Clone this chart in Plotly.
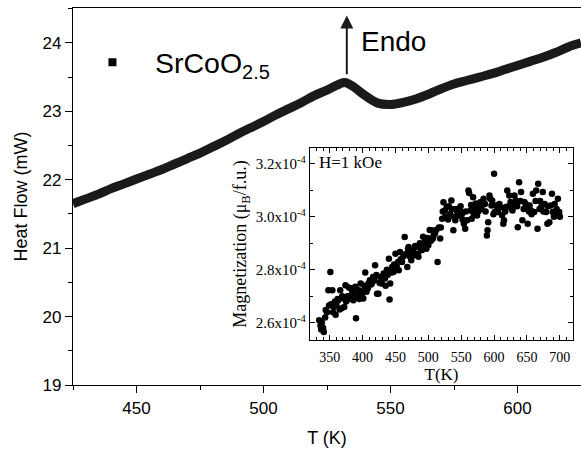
import plotly.graph_objects as go

# ---- main DSC curve ----
dsc_T = [425, 430, 435, 440, 445, 450, 455, 460, 465, 470, 475, 480, 485, 490, 495,
         500, 505, 510, 515, 520, 525, 530, 532, 535, 540, 545, 550, 555, 560, 565,
         570, 575, 580, 585, 590, 595, 600, 605, 610, 615, 620, 625]
dsc_HF = [21.65, 21.72, 21.79, 21.87, 21.94, 22.01, 22.08, 22.15, 22.23, 22.31, 22.39,
          22.48, 22.57, 22.67, 22.76, 22.85, 22.95, 23.04, 23.13, 23.23, 23.31, 23.40,
          23.42, 23.37, 23.23, 23.12, 23.10, 23.13, 23.18, 23.25, 23.33, 23.40, 23.45,
          23.50, 23.55, 23.61, 23.67, 23.73, 23.79, 23.86, 23.94, 24.00]

# ---- inset magnetization data (units of 1e-4 muB/f.u.) ----
mag_T = [334, 336, 337, 338, 340, 341, 343, 344, 346, 348, 349, 351, 352, 354, 355, 356,
         358, 359, 360, 362, 363, 365, 366, 368, 369, 371, 372, 374, 375, 377, 379, 380,
         381, 383, 384, 386, 388, 389, 390, 392, 394, 395, 397, 398, 399, 401, 403, 404,
         406, 408, 409, 411, 413, 414, 416, 418, 419, 421, 422, 424, 426, 427, 429, 431,
         432, 434, 435, 437, 438, 440, 441, 442, 444, 445, 447, 448, 450, 451, 452, 454,
         455, 457, 458, 460, 462, 464, 466, 468, 469, 470, 472, 474, 475, 477, 479, 480,
         482, 484, 485, 487, 488, 490, 492, 493, 495, 496, 497, 499, 500, 502, 504, 505,
         507, 508, 510, 512, 514, 516, 518, 519, 521, 522, 523, 525, 526, 528, 530, 531,
         533, 535, 536, 538, 539, 541, 542, 543, 545, 546, 548, 549, 551, 552, 554, 556,
         557, 559, 561, 562, 564, 565, 566, 568, 569, 571, 572, 574, 576, 578, 579, 581,
         583, 584, 586, 587, 589, 590, 591, 593, 594, 596, 597, 599, 600, 601, 603, 605,
         606, 608, 610, 612, 614, 615, 617, 618, 620, 622, 623, 625, 627, 628, 630, 631,
         633, 635, 636, 638, 640, 641, 643, 645, 646, 648, 650, 651, 653, 654, 656, 657,
         659, 661, 663, 664, 666, 667, 669, 670, 672, 674, 675, 677, 679, 681, 682, 684,
         686, 688, 689, 691, 692, 694, 695, 697, 699, 700]
mag_M = [2.61, 2.59, 2.575, 2.60, 2.58, 2.565, 2.62, 2.648, 2.64, 2.723, 2.665, 2.792,
         2.67, 2.723, 2.64, 2.66, 2.68, 2.63, 2.67, 2.69, 2.685, 2.65, 2.723, 2.655, 2.70,
         2.692, 2.66, 2.742, 2.68, 2.70, 2.733, 2.69, 2.70, 2.73, 2.72, 2.685, 2.71, 2.736,
         2.617, 2.70, 2.723, 2.69, 2.748, 2.72, 2.704, 2.692, 2.74, 2.79, 2.717, 2.73,
         2.748, 2.761, 2.745, 2.748, 2.773, 2.76, 2.817, 2.78, 2.71, 2.71, 2.75, 2.773,
         2.748, 2.77, 2.786, 2.767, 2.74, 2.80, 2.78, 2.842, 2.688, 2.748, 2.79, 2.811,
         2.792, 2.82, 2.861, 2.80, 2.811, 2.83, 2.798, 2.867, 2.84, 2.830, 2.85, 2.924,
         2.86, 2.811, 2.880, 2.886, 2.85, 2.836, 2.87, 2.874, 2.855, 2.89, 2.887, 2.86,
         2.849, 2.900, 2.88, 2.874, 2.925, 2.90, 2.905, 2.89, 2.880, 2.92, 2.893, 2.95,
         2.91, 2.949, 2.918, 2.93, 2.937, 2.95, 2.830, 2.96, 2.918, 2.96, 2.993, 3.02,
         3.055, 3.024, 3.00, 3.036, 2.99, 3.04, 3.011, 3.062, 3.03, 2.949, 3.00, 2.987,
         3.03, 3.024, 3.01, 3.005, 3.024, 3.04, 3.011, 2.99, 2.974, 2.955, 3.02, 2.987,
         3.100, 3.09, 3.024, 3.045, 2.993, 3.074, 3.01, 3.030, 3.05, 3.005, 3.02, 3.04,
         3.055, 3.03, 3.06, 3.068, 3.049, 3.02, 2.930, 2.949, 2.980, 3.081, 3.068, 3.043,
         3.062, 3.01, 3.163, 3.018, 3.043, 3.03, 3.018, 3.049, 3.035, 3.006, 2.974, 2.987,
         3.02, 3.037, 3.100, 3.04, 3.081, 3.056, 3.03, 3.024, 3.05, 3.081, 3.062, 3.04,
         2.961, 3.131, 3.06, 3.094, 2.987, 3.03, 3.056, 3.049, 3.04, 2.974, 3.02, 3.043,
         3.024, 3.01, 3.087, 3.018, 3.06, 3.10, 2.955, 3.125, 3.030, 3.06, 3.04, 3.094,
         3.02, 3.049, 3.018, 2.974, 3.04, 2.980, 3.043, 3.087, 3.018, 3.00, 3.049, 3.006,
         3.03, 3.068, 3.018, 3.00]

main_xticks = [450, 500, 550, 600]
main_yticks = [19, 20, 21, 22, 23, 24]
inset_xticks = [350, 400, 450, 500, 550, 600, 650, 700]
inset_yticks = [2.6, 2.8, 3.0, 3.2]
inset_ytext = ["2.6x10<sup>-4</sup>", "2.8x10<sup>-4</sup>", "3.0x10<sup>-4</sup>", "3.2x10<sup>-4</sup>"]

SANS = "Liberation Sans, Arial, sans-serif"
SERIF = "Liberation Serif, Times New Roman, serif"
INK = "#1a1a1a"

fig = go.Figure()

fig.add_trace(go.Scatter(
    x=dsc_T, y=dsc_HF, mode="lines", line=dict(color=INK, width=9, shape="spline"),
    showlegend=False, xaxis="x", yaxis="y"))
fig.add_trace(go.Scatter(
    x=[None], y=[None], mode="markers", name="SrCoO<sub>2.5</sub>",
    marker=dict(symbol="square", size=8, color="black"), showlegend=True))

fig.add_trace(go.Scatter(
    x=mag_T, y=mag_M, mode="markers",
    marker=dict(symbol="circle", size=6.5, color="black"),
    showlegend=False, xaxis="x2", yaxis="y2"))

axis_common = dict(showline=True, linecolor="black", linewidth=1.3, showgrid=False,
                   zeroline=False, tickcolor="black", tickwidth=1.3)

fig.update_layout(
    width=581, height=452,
    margin=dict(l=73, r=0, t=8, b=67),
    paper_bgcolor="white", plot_bgcolor="white",
    font=dict(family=SANS, color="black"),
    xaxis=dict(domain=[0, 1], range=[425, 625], tickvals=main_xticks, ticks="outside",
               ticklen=7, mirror=True, tickfont=dict(size=17, family=SANS),
               minor=dict(dtick=25, tick0=425, ticks="outside", ticklen=4, tickcolor="black"),
               title=dict(text="T (K)", font=dict(size=18, family=SANS), standoff=14),
               **axis_common),
    yaxis=dict(domain=[0, 1], range=[19, 24.51], tickvals=main_yticks, ticks="outside",
               ticklen=7, tickfont=dict(size=17, family=SANS),
               minor=dict(dtick=0.5, tick0=19, ticks="outside", ticklen=4, tickcolor="black"),
               title=dict(text="Heat Flow (mW)", font=dict(size=18, family=SANS), standoff=10),
               **axis_common),
    xaxis2=dict(domain=[0.4665, 0.9843], anchor="y2", range=[320, 720],
                tickvals=inset_xticks, ticks="inside", ticklen=5, mirror="ticks",
                tickfont=dict(size=14, family=SERIF), ticklabelstandoff=4,
                minor=dict(dtick=10, tick0=350, ticks="inside", ticklen=3, tickcolor="black"),
                title=dict(text="T(K)", font=dict(size=17, family=SERIF), standoff=3),
                **axis_common),
    yaxis2=dict(domain=[0.1194, 0.6286], anchor="x2", range=[2.535, 3.26],
                tickvals=inset_yticks, ticktext=inset_ytext, ticks="inside", ticklen=5,
                mirror="ticks", tickfont=dict(size=15, family=SERIF),
                minor=dict(dtick=0.1, tick0=2.6, ticks="inside", ticklen=3, tickcolor="black"),
                title=dict(text="Magnetization (μ<sub>B</sub>/f.u.)",
                           font=dict(size=18, family=SERIF), standoff=4),
                **axis_common),
    legend=dict(x=-0.006, y=0.855, xanchor="left", yanchor="middle",
                bgcolor="rgba(0,0,0,0)", font=dict(size=28.5, family=SANS),
                itemwidth=75),
    annotations=[
        dict(x=532.8, y=24.40, ax=532.8, ay=23.52, xref="x", yref="y", axref="x", ayref="y",
             text="", showarrow=True, arrowhead=2, arrowsize=1.3, arrowwidth=2,
             arrowcolor=INK),
        dict(x=537.5, y=24.02, xref="x", yref="y", text="Endo", showarrow=False,
             xanchor="left", yanchor="middle", font=dict(size=28, family=SANS)),
        dict(x=331, y=3.205, xref="x2", yref="y2", text="H=1 kOe", showarrow=False,
             xanchor="left", yanchor="middle", font=dict(size=17, family=SERIF)),
    ],
)

fig.write_html("out.html", config={"displayModeBar": False},
               post_script="document.body.style.margin='0px';")
